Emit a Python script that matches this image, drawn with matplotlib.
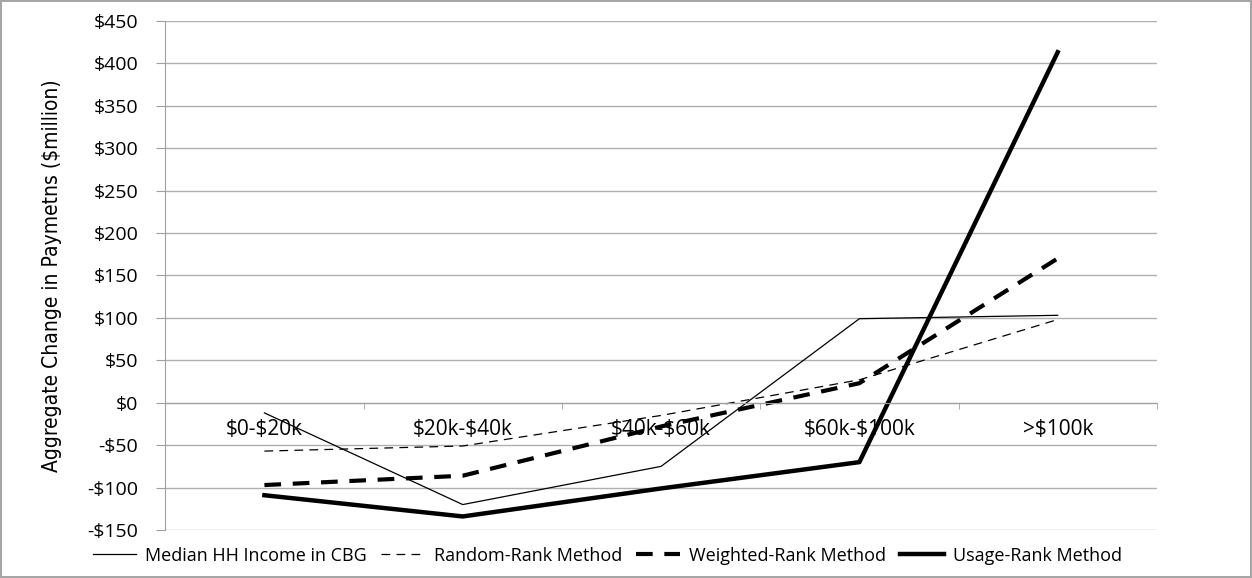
import numpy as np
import matplotlib.pyplot as plt

categories = ['$0-$20k', '$20k-$40k', '$40k-$60k', '$60k-$100k', '>$100k']
median_hh = [-12, -120, -75, 99, 103]
random_rank = [-57, -51, -15, 27, 98]
weighted_rank = [-97, -86, -28, 23, 170]
usage_rank = [-109, -134, -101, -70, 413]
y_ticks = list(range(-150, 451, 50))

plt.rcParams['font.family'] = ['Open Sans', 'DejaVu Sans']
plt.rcParams['text.parse_math'] = False

fig = plt.figure(figsize=(12.52, 5.78), dpi=100)
fig.patch.set_edgecolor('#a6a6a6')
fig.patch.set_linewidth(1.5)
ax = fig.add_axes([0.132, 0.083, 0.792, 0.881])

# spine position first: it resets the tick settings
ax.spines['bottom'].set_position(('data', 0))
ax.spines['bottom'].set_color('#a0a0a0')
ax.spines['left'].set_color('#a0a0a0')
ax.spines['top'].set_visible(False)
ax.spines['right'].set_visible(False)

x = np.arange(len(categories))
ax.plot(x, median_hh, color='black', lw=0.9, label='Median HH Income in CBG')
ax.plot(x, random_rank, color='black', lw=0.9, dashes=(7, 5), label='Random-Rank Method')
ax.plot(x, weighted_rank, color='black', lw=3, dashes=(4, 2.8), label='Weighted-Rank Method')
ax.plot(x, usage_rank, color='black', lw=3.2, label='Usage-Rank Method')

ax.set_ylim(-150, 450)
ax.set_xlim(-0.5, len(categories) - 0.5)
ax.set_yticks(y_ticks)
ax.set_yticklabels(['-$%d' % -v if v < 0 else '$%d' % v for v in y_ticks], fontsize=14)
ax.yaxis.grid(True, color='#b0b0b0', lw=1)
ax.set_axisbelow(True)

ax.set_xticks(x)
ax.set_xticklabels(categories, fontsize=15)
ax.set_xticks(np.arange(-0.5, len(categories), 1), minor=True)
ax.tick_params(axis='x', which='major', length=0, pad=12)
ax.tick_params(axis='x', which='minor', length=4, color='#a0a0a0', direction='out')
ax.tick_params(axis='y', length=6.5, color='#a0a0a0', pad=13)

ax.set_ylabel('Aggregate Change in Paymetns ($million)', fontsize=15,
              family='DejaVu Sans', fontstretch='condensed', labelpad=18)

fig.legend(loc='lower center', bbox_to_anchor=(0.485, -0.005), ncol=4, frameon=False,
           fontsize=13, handlelength=2.4, columnspacing=0.8, handletextpad=0.5)

fig.savefig('out.png', dpi=100)
